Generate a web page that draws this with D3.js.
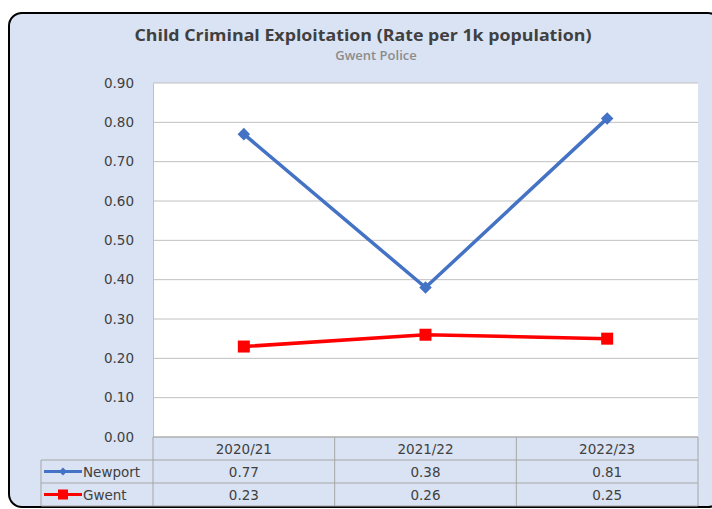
<!DOCTYPE html>
<html><head><meta charset="utf-8">
<script src="https://cdn.jsdelivr.net/npm/d3@7"></script>
<style>body{margin:0;background:#fff;} svg{display:block;}</style>
</head><body>
<script>
const categories = ["2020/21", "2021/22", "2022/23"];
const newport = [0.77, 0.38, 0.81];
const gwent = [0.23, 0.26, 0.25];
const yTicks = [0, 0.1, 0.2, 0.3, 0.4, 0.5, 0.6, 0.7, 0.8, 0.9];
const seriesNames = ["Newport", "Gwent"];
const title = "Child Criminal Exploitation (Rate per 1k population)";
const subtitle = "Gwent Police";

const W = 712, H = 509;
const svg = d3.select("body").append("svg").attr("width", W).attr("height", H);
const font = "'Open Sans', 'Noto Sans', sans-serif";
const font2 = "'DejaVu Sans', Verdana, sans-serif";

svg.append("rect").attr("x", 9).attr("y", 13).attr("width", 712).attr("height", 494)
  .attr("rx", 13).attr("fill", "#dae3f3").attr("stroke", "#000").attr("stroke-width", 2);

svg.append("text").attr("x", 363).attr("y", 41).attr("text-anchor", "middle")
  .attr("textLength", 457).attr("lengthAdjust", "spacingAndGlyphs")
  .attr("font-family", font).attr("font-weight", "bold").attr("font-size", 16.5).attr("fill", "#404040").text(title);
svg.append("text").attr("x", 376).attr("y", 60).attr("text-anchor", "middle")
  .attr("font-family", font).attr("font-weight", 600).attr("font-size", 13).attr("fill", "#8c8c8c").text(subtitle);

const pLeft = 153, pRight = 698, pTop = 83, pBottom = 437;
const x = d3.scaleBand().domain(categories).range([pLeft, pRight]);
const y = d3.scaleLinear().domain([0, 0.9]).range([pBottom, pTop]);

svg.append("rect").attr("x", pLeft).attr("y", pTop).attr("width", pRight - pLeft).attr("height", pBottom - pTop).attr("fill", "#fff");

svg.append("g").selectAll("line").data(yTicks).join("line")
  .attr("x1", pLeft).attr("x2", pRight).attr("y1", d => y(d)).attr("y2", d => y(d))
  .attr("stroke", "#c0c0c0").attr("stroke-width", 1);

const yAxis = d3.axisLeft(y).tickValues(yTicks).tickFormat(d3.format(".2f")).tickSize(0).tickPadding(19);
const ga = svg.append("g").attr("transform", `translate(${pLeft},0)`).call(yAxis);
ga.select(".domain").attr("stroke", "#bfbfbf");
ga.selectAll("text").attr("font-family", font2).attr("font-size", 13.5).attr("fill", "#404040");

const cx = d => x(d) + x.bandwidth() / 2;
const line = d3.line().x((d, i) => cx(categories[i])).y(d => y(d));

svg.append("path").datum(newport).attr("d", line).attr("fill", "none").attr("stroke", "#4472c4").attr("stroke-width", 3.5);
svg.append("path").datum(gwent).attr("d", line).attr("fill", "none").attr("stroke", "#ff0000").attr("stroke-width", 3.5);

const diamond = d3.symbol().type(d3.symbolDiamond2).size(100);
svg.append("g").selectAll("path").data(newport).join("path")
  .attr("transform", (d, i) => `translate(${cx(categories[i])},${y(d)})`)
  .attr("d", diamond).attr("fill", "#4472c4");
svg.append("g").selectAll("rect").data(gwent).join("rect")
  .attr("x", (d, i) => cx(categories[i]) - 6).attr("y", d => y(d) - 6)
  .attr("width", 12).attr("height", 12).attr("fill", "#ff0000");

// data table
const rowH = 23;
const tbl = svg.append("g");
const tc = "#a6a6a6";
const tLeft = 41;
tbl.append("line").attr("x1", pLeft).attr("x2", pRight).attr("y1", pBottom).attr("y2", pBottom).attr("stroke", tc);
[1, 2, 3].forEach(r => {
  tbl.append("line").attr("x1", tLeft).attr("x2", pRight).attr("y1", pBottom + r * rowH).attr("y2", pBottom + r * rowH).attr("stroke", tc);
});
tbl.append("line").attr("x1", tLeft).attr("x2", tLeft).attr("y1", pBottom + rowH).attr("y2", pBottom + 3 * rowH).attr("stroke", tc);
[pLeft, ...categories.map(c => x(c) + x.bandwidth())].forEach(xx => {
  tbl.append("line").attr("x1", xx).attr("x2", xx).attr("y1", pBottom).attr("y2", pBottom + 3 * rowH).attr("stroke", tc);
});
const textAttrs = s => s.attr("font-family", font2).attr("font-size", 13.5).attr("fill", "#404040").attr("text-anchor", "middle");
categories.forEach(c => {
  tbl.append("text").attr("x", cx(c)).attr("y", pBottom + 16.5).text(c).call(textAttrs);
});
[newport, gwent].forEach((vals, r) => {
  vals.forEach((v, i) => {
    tbl.append("text").attr("x", cx(categories[i])).attr("y", pBottom + (r + 1) * rowH + 16.5).text(d3.format(".2f")(v)).call(textAttrs);
  });
});
const ly1 = pBottom + rowH + 11.5, ly2 = pBottom + 2 * rowH + 11.5;
tbl.append("line").attr("x1", 44).attr("x2", 82).attr("y1", ly1).attr("y2", ly1).attr("stroke", "#4472c4").attr("stroke-width", 3);
tbl.append("path").attr("transform", `translate(63,${ly1})`).attr("d", d3.symbol().type(d3.symbolDiamond2).size(40)).attr("fill", "#4472c4");
tbl.append("line").attr("x1", 44).attr("x2", 82).attr("y1", ly2).attr("y2", ly2).attr("stroke", "#ff0000").attr("stroke-width", 3);
tbl.append("rect").attr("x", 58).attr("y", ly2 - 5).attr("width", 10).attr("height", 10).attr("fill", "#ff0000");
seriesNames.forEach((n, r) => {
  tbl.append("text").attr("x", 83).attr("y", pBottom + (r + 1) * rowH + 16.5).text(n)
    .attr("font-family", font2).attr("font-size", 13.5).attr("fill", "#404040");
});
</script>
</body></html>
